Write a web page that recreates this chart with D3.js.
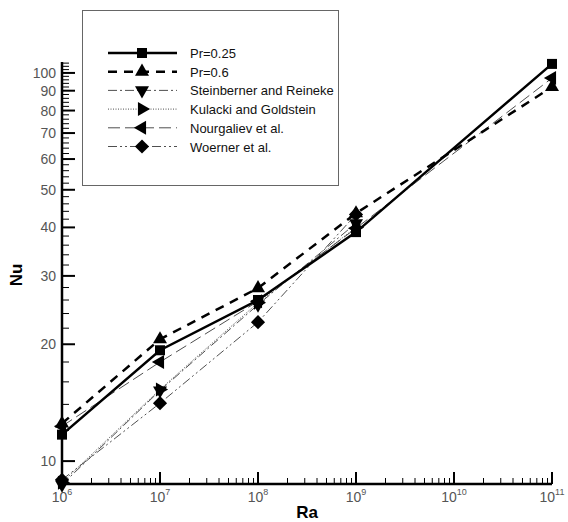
<!DOCTYPE html>
<html>
<head>
<meta charset="utf-8">
<script src="https://cdn.jsdelivr.net/npm/d3@7"></script>
<style>
  body { margin: 0; background: #fff; }
  text { font-family: "Liberation Sans", Arial, sans-serif; }
</style>
</head>
<body>
<div id="chart"></div>
<script>
// values
var ra = [1e6, 1e7, 1e8, 1e9, 1e11];
var nuPr025 = [11.7, 19.3, 26.0, 38.9, 105.5];
var nuPr06 = [12.5, 20.6, 27.9, 43.5, 92];
var nuSteinberner = [8.7, 15.2, 25.3, 41.0];
var nuKulacki = [8.8, 15.3, 25.6, 40.0];
var nuNourgaliev = [12.3, 18.0, 25.8, 39.8, 97];
var nuWoerner = [8.95, 14.1, 22.8, 43.2];
var seriesNames = ["Pr=0.25", "Pr=0.6", "Steinberner and Reineke", "Kulacki and Goldstein", "Nourgaliev et al.", "Woerner et al."];
var yTickValues = [10, 20, 30, 40, 50, 60, 70, 80, 90, 100];
var xExponents = [6, 7, 8, 9, 10, 11];

var width = 568, height = 522;
var x0 = 62, x1 = 552, yBot = 484, yTop = 62;

var series = [
  {name: seriesNames[0], nu: nuPr025, sym: "square", rot: 0, w: 2.5, dash: null, color: "#000"},
  {name: seriesNames[1], nu: nuPr06, sym: "tri", rot: 0, w: 2.5, dash: "9,7", color: "#000"},
  {name: seriesNames[2], nu: nuSteinberner, sym: "tri", rot: 180, w: 0.8, dash: "9,3,2,3", color: "#222"},
  {name: seriesNames[3], nu: nuKulacki, sym: "tri", rot: 90, w: 0.8, dash: "1,1.5", color: "#222"},
  {name: seriesNames[4], nu: nuNourgaliev, sym: "tri", rot: -90, w: 0.8, dash: "12,5", color: "#222"},
  {name: seriesNames[5], nu: nuWoerner, sym: "square", rot: 45, w: 0.8, dash: "9,3,2,3,2,3", color: "#222"}
];

var svg = d3.select('#chart').append('svg')
  .attr('width', width)
  .attr('height', height);

var x = d3.scaleLog().domain([1e6, 1e11]).range([x0, x1]);
var y = d3.scaleLog().domain([8.73, 106.7]).range([yBot, yTop]);

function symbolFor(s) {
  if (s.sym == "square") return d3.symbol().type(d3.symbolSquare).size(100);
  return d3.symbol().type(d3.symbolTriangle).size(85);
}

// lines (thin ones under the thick ones)
var line = d3.line()
  .x(function(d) { return x(d[0]); })
  .y(function(d) { return y(d[1]); });

var order = [2, 3, 4, 5, 1, 0];
order.forEach(function(i) {
  var s = series[i];
  var pts = s.nu.map(function(v, j) { return [ra[j], v]; });
  svg.append('path')
    .attr('d', line(pts))
    .attr('fill', 'none')
    .attr('stroke', s.color)
    .attr('stroke-width', s.w)
    .attr('stroke-dasharray', s.dash);
});

// axes
var yMinor = d3.range(12, 107, 2).filter(function(v) { return v % 10 != 0; });
svg.selectAll('.yminor').data(yMinor).enter().append('line')
  .attr('x1', x0).attr('x2', x0 + 7)
  .attr('y1', function(d) { return y(d); }).attr('y2', function(d) { return y(d); })
  .attr('stroke', '#000').attr('stroke-width', 1);
svg.selectAll('.ymajor').data(yTickValues).enter().append('line')
  .attr('x1', x0).attr('x2', x0 + 13)
  .attr('y1', function(d) { return y(d); }).attr('y2', function(d) { return y(d); })
  .attr('stroke', '#000').attr('stroke-width', 2);
svg.selectAll('.ylab').data(yTickValues).enter().append('text')
  .attr('x', x0 - 6)
  .attr('y', function(d) { return y(d) + 5; })
  .attr('text-anchor', 'end')
  .attr('font-size', 14)
  .attr('fill', '#555')
  .text(function(d) { return d; });

var xMinor = [];
xExponents.slice(0, -1).forEach(function(e) {
  for (var k = 2; k < 10; k++) xMinor.push(k * Math.pow(10, e));
});
svg.selectAll('.xminor').data(xMinor).enter().append('line')
  .attr('x1', function(d) { return x(d); }).attr('x2', function(d) { return x(d); })
  .attr('y1', yBot).attr('y2', yBot - 6)
  .attr('stroke', '#000').attr('stroke-width', 1);
svg.selectAll('.xmajor').data(xExponents).enter().append('line')
  .attr('x1', function(d) { return x(Math.pow(10, d)); }).attr('x2', function(d) { return x(Math.pow(10, d)); })
  .attr('y1', yBot).attr('y2', yBot - 12)
  .attr('stroke', '#000').attr('stroke-width', 2);
var xl = svg.selectAll('.xlab').data(xExponents).enter().append('text')
  .attr('x', function(d) { return x(Math.pow(10, d)); })
  .attr('y', 502)
  .attr('text-anchor', 'middle')
  .attr('font-size', 14)
  .attr('fill', '#555');
xl.append('tspan').text('10');
xl.append('tspan').attr('dy', -7).attr('font-size', 9).text(function(d) { return d; });

svg.append('line').attr('x1', x0).attr('x2', x0).attr('y1', yTop).attr('y2', yBot + 1)
  .attr('stroke', '#000').attr('stroke-width', 2.5);
svg.append('line').attr('x1', x0).attr('x2', x1).attr('y1', yBot).attr('y2', yBot)
  .attr('stroke', '#000').attr('stroke-width', 2.5);

svg.append('text')
  .attr('transform', 'translate(22,' + 275 + ') rotate(-90)')
  .attr('text-anchor', 'middle')
  .attr('font-size', 17).attr('font-weight', 'bold')
  .text('Nu');
svg.append('text')
  .attr('x', 307).attr('y', 518)
  .attr('text-anchor', 'middle')
  .attr('font-size', 17).attr('font-weight', 'bold')
  .text('Ra');

// markers
series.forEach(function(s) {
  svg.selectAll(null).data(s.nu).enter().append('path')
    .attr('d', symbolFor(s))
    .attr('transform', function(d, j) {
      return 'translate(' + x(ra[j]) + ',' + y(d) + ') rotate(' + s.rot + ')';
    })
    .attr('fill', '#000');
});

// legend
svg.append('rect')
  .attr('x', 82.5).attr('y', 10.5).attr('width', 256).attr('height', 175)
  .attr('fill', '#fff').attr('stroke', '#666').attr('stroke-width', 1);
var leg = svg.selectAll('.leg').data(series).enter().append('g')
  .attr('transform', function(d, i) { return 'translate(0,' + (53 + i * 18.7) + ')'; });
leg.append('line')
  .attr('x1', 108).attr('x2', 177).attr('y1', 0).attr('y2', 0)
  .attr('stroke', function(d) { return d.color; })
  .attr('stroke-width', function(d) { return d.w; })
  .attr('stroke-dasharray', function(d) { return d.dash; });
leg.append('path')
  .attr('d', function(d) { return symbolFor(d)(); })
  .attr('transform', function(d) { return 'translate(142,0) rotate(' + d.rot + ')'; })
  .attr('fill', '#000');
leg.append('text')
  .attr('x', 190).attr('y', 5)
  .attr('font-size', 13)
  .attr('fill', '#111')
  .text(function(d) { return d.name; });
</script>
</body>
</html>
